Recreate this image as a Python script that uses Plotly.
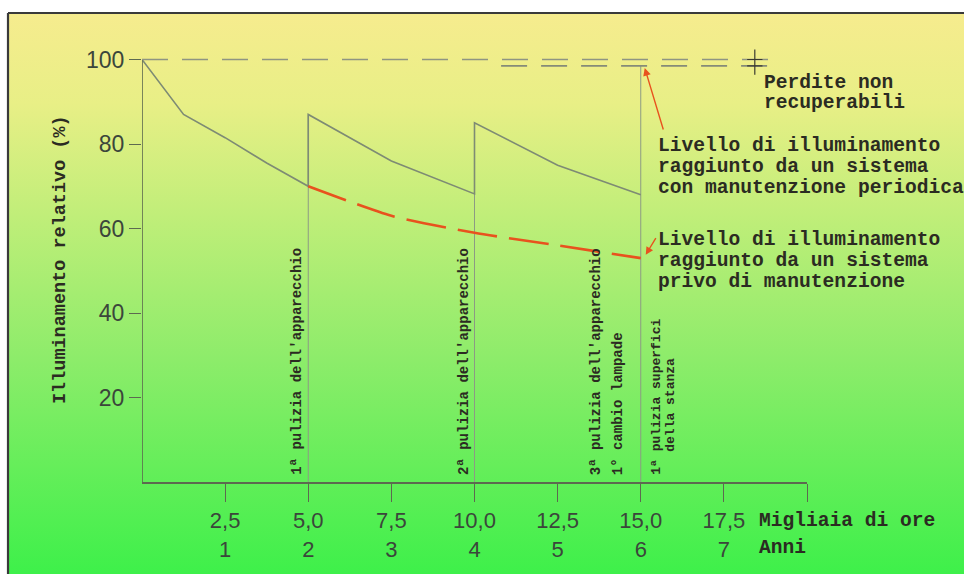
import base64
import plotly.graph_objects as go

# ---- data -------------------------------------------------------------
# thousands of operating hours on the x axis, relative illuminance (%) on y
tick_hours = [2.5, 5.0, 7.5, 10.0, 12.5, 15.0, 17.5, 20.0]
tick_hours_text = ["2,5", "5,0", "7,5", "10,0", "12,5", "15,0", "17,5", ""]
tick_years_text = ["1", "2", "3", "4", "5", "6", "7", ""]
y_ticks = [20, 40, 60, 80, 100]

# system with periodic maintenance (saw-tooth)
maint_x = [0, 1.25, 2.5, 3.75, 5, 5, 7.5, 10, 10, 12.5, 15]
maint_y = [100, 87, 81.5, 75.5, 70, 87, 76, 68.2, 85, 75, 68]

# system without maintenance
nomaint_x = [5, 7.5, 10, 12.5, 15]
nomaint_y = [70, 63, 59, 56, 53]

# maintenance events: position (k hours) and level reached after the event
event_x = [5, 10, 15]
event_top = [87, 85, 98.5]

initial_level = 100
recoverable_level = 98.5

event_labels = [
    (5, -12, "1ª pulizia dell'apparecchio"),
    (10, -11, "2ª pulizia dell'apparecchio"),
    (15, -45, "3ª pulizia dell'apparecchio"),
    (15, -23, "1° cambio lampade"),
]

W, H = 964, 574
X0_PX, X1_PX = 142, 807          # x axis from 0 to 20
Y0_PX, YTOP_PX = 482, 38.4       # y axis from 0 to 105

AX_COL = "#5d6950"
CURVE_COL = "#7e8b74"
RED = "#e8521e"
TXT = "#2b2b22"
TICK_TXT = "#3b463b"
MONO = "Liberation Mono"

fig = go.Figure()

# vertical event lines
for ex, et in zip(event_x, event_top):
    fig.add_trace(go.Scatter(x=[ex, ex], y=[0, et], mode="lines",
                             line=dict(color="#8d9a84", width=1),
                             hoverinfo="skip", showlegend=False))

fig.add_trace(go.Scatter(x=maint_x, y=maint_y, mode="lines",
                         line=dict(color=CURVE_COL, width=1.6),
                         showlegend=False))

fig.add_trace(go.Scatter(x=nomaint_x, y=nomaint_y, mode="lines",
                         line=dict(color=RED, width=2.6, dash="40px,12px",
                                   shape="spline", smoothing=0.6),
                         showlegend=False))

# background gradient as an inline SVG image
svg = (
    '<svg xmlns="http://www.w3.org/2000/svg" width="955" height="560" '
    'preserveAspectRatio="none">'
    '<defs><linearGradient id="g" x1="0" y1="0" x2="0" y2="1">'
    '<stop offset="0" stop-color="#f6ec8e"/>'
    '<stop offset="0.16" stop-color="#e8ef86"/>'
    '<stop offset="0.36" stop-color="#c0ee79"/>'
    '<stop offset="0.62" stop-color="#8cec6a"/>'
    '<stop offset="1" stop-color="#3ef04a"/>'
    '</linearGradient></defs>'
    '<rect width="955" height="560" fill="url(#g)"/></svg>'
)
src = "data:image/svg+xml;base64," + base64.b64encode(svg.encode()).decode()

shapes = [
    # frame
    dict(type="line", xref="paper", yref="paper", x0=8 / W, x1=1.02,
         y0=1 - 13 / H, y1=1 - 13 / H, line=dict(color="#3a3a3a", width=2.2)),
    dict(type="line", xref="paper", yref="paper", x0=8 / W, x1=8 / W,
         y0=-0.02, y1=1 - 13 / H, line=dict(color="#3a3a3a", width=2.2)),
    # y axis line up to 100
    dict(type="line", xref="x", yref="y", x0=0, x1=0, y0=0, y1=initial_level,
         line=dict(color=AX_COL, width=1.6)),
    # initial level and recoverable level (dashed)
    dict(type="line", xref="x", yref="y", x0=0, x1=19, y0=initial_level,
         y1=initial_level, line=dict(color="#8e9582", width=1.4, dash="26px,14px")),
    dict(type="line", xref="x", yref="y", x0=10.8, x1=19, y0=recoverable_level,
         y1=recoverable_level, line=dict(color="#858b78", width=1.6, dash="26px,14px")),
    # dimension mark for the non recoverable losses
    dict(type="line", xref="x", yref="y", x0=18.43, x1=18.43, y0=96.4, y1=102.4,
         line=dict(color="#3a3a30", width=1.2)),
    dict(type="line", xref="x", yref="y", x0=18.2, x1=18.66, y0=initial_level,
         y1=initial_level, line=dict(color="#3a3a30", width=1.2)),
    dict(type="line", xref="x", yref="y", x0=18.2, x1=18.66, y0=recoverable_level,
         y1=recoverable_level, line=dict(color="#3a3a30", width=1.2)),
]

ann = []
font_v = dict(family=MONO, size=14, color=TXT, weight="bold")
for ex, shift, label in event_labels:
    ann.append(dict(x=ex, y=0, xref="x", yref="y", text=label, showarrow=False,
                    textangle=-90, xanchor="center", yanchor="bottom",
                    xshift=shift, yshift=5, font=font_v))
font_v2 = dict(family=MONO, size=13, color=TXT, weight="bold")
ann.append(dict(x=15, y=0, xref="x", yref="y", text="1ª pulizia superfici",
                showarrow=False, textangle=-90, xanchor="center", yanchor="bottom",
                xshift=15, yshift=5, font=font_v2))
ann.append(dict(x=15, y=0, xref="x", yref="y", text="della stanza",
                showarrow=False, textangle=-90, xanchor="center", yanchor="bottom",
                xshift=29, yshift=28, font=font_v2))

font_r = dict(family=MONO, size=19.6, color=TXT, weight="bold")


def text_line(px_x, px_y, txt, f=font_r):
    ann.append(dict(x=px_x / W, y=1 - px_y / H, xref="paper", yref="paper",
                    text=txt, showarrow=False, xanchor="left", yanchor="middle",
                    font=f))


text_line(762, 83, "Perdite non")
text_line(762, 103, "recuperabili")
text_line(656, 146, "Livello di illuminamento")
text_line(656, 167, "raggiunto da un sistema")
text_line(656, 188, "con manutenzione periodica")
text_line(656, 240, "Livello di illuminamento")
text_line(656, 261, "raggiunto da un sistema")
text_line(656, 282, "privo di manutenzione")
text_line(757, 521, "Migliaia di ore")
text_line(757, 548, "Anni")

# arrows pointing to the two levels at the end of the period
ann.append(dict(x=15.12, y=98.0, xref="x", yref="y", ax=19, ay=63, text="",
                showarrow=True, arrowhead=2, arrowsize=1.1, arrowwidth=1.4,
                arrowcolor=RED))
ann.append(dict(x=15.15, y=53.8, xref="x", yref="y", ax=11, ay=-18, text="",
                showarrow=True, arrowhead=2, arrowsize=1.1, arrowwidth=1.4,
                arrowcolor=RED))

# y axis title
ann.append(dict(x=60 / W, y=1 - 260 / H, xref="paper", yref="paper",
                xanchor="center", yanchor="middle",
                text="Illuminamento relativo (%)", showarrow=False, textangle=-90,
                font=dict(family=MONO, size=18.5, color=TXT, weight="bold")))

fig.update_layout(
    width=W, height=H,
    margin=dict(l=0, r=0, t=0, b=0),
    paper_bgcolor="white",
    plot_bgcolor="rgba(0,0,0,0)",
    showlegend=False,
    shapes=shapes,
    annotations=ann,
    images=[dict(source=src, xref="paper", yref="paper", x=9 / W, y=1 - 14 / H,
                 sizex=1 - 9 / W, sizey=1 - 14 / H, xanchor="left", yanchor="top",
                 sizing="stretch", layer="below")],
    xaxis=dict(domain=[X0_PX / W, X1_PX / W], range=[0, 20], showgrid=False,
               zeroline=False, showline=True, linecolor=AX_COL, linewidth=1.6,
               ticks="outside", ticklen=18, tickwidth=1.4, tickcolor=AX_COL,
               tickvals=tick_hours,
               ticktext=[h + "<br>" + y for h, y in zip(tick_hours_text, tick_years_text)],
               tickfont=dict(family="Liberation Sans", size=22, color=TICK_TXT)),
    yaxis=dict(domain=[1 - Y0_PX / H, 1 - YTOP_PX / H], range=[0, 105],
               showgrid=False, zeroline=False, showline=False,
               ticks="outside", ticklen=12, tickwidth=1.4, tickcolor=AX_COL,
               tickvals=y_ticks,
               tickfont=dict(family="Liberation Sans", size=23, color=TICK_TXT)),
)

fig.write_html("out.html")
